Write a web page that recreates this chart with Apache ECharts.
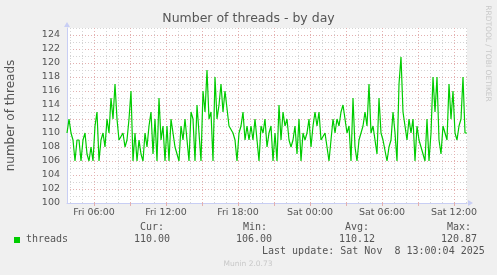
<!DOCTYPE html>
<html>
<head>
<meta charset="utf-8">
<script src="https://cdn.jsdelivr.net/npm/echarts@6/dist/echarts.min.js"></script>
<style>
html,body{margin:0;padding:0;background:#f0f0f0;}
#c{width:497px;height:275px;}
</style>
</head>
<body>
<div id="c"></div>
<script>
// Time axis: hours since Fri 00:00, one sample every 10 minutes
const startHour = 3.75;            // Fri 03:45
const stepHours = 1 / 6;           // 10 minutes
const endHour = 37.0833;           // Sat 13:05

// number of threads, one value per 10-minute step
const threads = [
  110,112,110,109,106,109,109,106,109,110,
  107,106,108,106,111,113,106,109,110,108,
  112,110,115,112,117,112,109,109,110,108,
  109,112,116,106,110,106,109,107,106,110,
  108,111,113,107,112,106,115,109,111,106,
  111,106,112,112,108,107,106,111,109,112,
  112,106,113,112,106,114,110,106,116,113,
  119,112,113,106,118,112,114,117,113,116,
  116,111,111,110,109,106,110,111,113,109,
  111,109,111,109,112,109,106,111,110,112,
  108,110,111,106,110,106,114,109,113,111,
  112,109,108,109,111,107,112,106,110,109,
  110,112,108,111,113,111,113,109,109,110,
  108,106,106,112,110,112,111,113,114,112,
  110,111,106,115,108,106,109,110,111,113,
  111,117,110,111,111,107,115,110,109,109,
  106,108,109,113,110,106,117,120.87,113,111,
  109,112,110,112,106,111,109,108,107,106,
  112,106,110,118,113,118,109,107,111,110,
  109,117,112,116,110,109,111,112,118,110,
  110
];

// Grid / tick positions (hours since Fri 00:00)
const minorHours = [4,5,7,8,10,11,13,14,16,17,19,20,22,23,25,26,28,29,31,32,34,35,37];
const majorHours = [6,9,12,15,18,21,24,27,30,33,36];
const labelHours = [6,12,18,24,30,36];
const labelTexts = ['Fri 06:00','Fri 12:00','Fri 18:00','Sat 00:00','Sat 06:00','Sat 12:00'];

const yMinorTicks = [101,103,105,107,109,111,113,115,117,119,121,123,125];
const yMajorTicks = [102,104,106,108,110,112,114,116,118,120,122,124];
const yLabels = [100,102,104,106,108,110,112,114,116,118,120,122,124];

// Legend values
const legendHeads = ['Cur:','Min:','Avg:','Max:'];
const legendVals = ['110.00','106.00','110.12','120.87'];

const seriesData = threads.map((v, i) => [startHour + i * stepHours, v]);

const FONT = 'DejaVu Sans';
const TXT = '#555555';
const AXIS = '#c8cef4';
const GRIDC = '#d4d4d4';
const MGRIDC = '#e3b0b0';

const chart = echarts.init(document.getElementById('c'), null, {renderer: 'canvas'});

const headX = [140, 243, 345, 447];
const valX = [134, 236, 339, 441];
const graphics = [
  {type:'text', x:11, y:115.5, rotation:Math.PI/2,
   style:{text:'number of threads', font:'12px "DejaVu Sans"', fill:TXT, align:'center', verticalAlign:'middle'}},
  {type:'text', x:488, y:53.5, rotation:-Math.PI/2,
   style:{text:'RRDTOOL / TOBI OETIKER', font:'7.5px "DejaVu Sans"', fill:'#c8c8c8', align:'center', verticalAlign:'middle'}},
  {type:'rect', shape:{x:14, y:237, width:6, height:6}, style:{fill:'#00cc00'}},
  {type:'text', x:26, y:239.5,
   style:{text:'threads', font:'10px "DejaVu Sans Mono"', fill:TXT, align:'left', verticalAlign:'middle'}},
  {type:'text', x:262, y:251,
   style:{text:'Last update: Sat Nov  8 13:00:04 2025', font:'10px "DejaVu Sans Mono"', fill:TXT, align:'left', verticalAlign:'middle'}},
  {type:'text', x:248, y:264.3,
   style:{text:'Munin 2.0.73', font:'7.5px "DejaVu Sans"', fill:'#c8c8c8', align:'center', verticalAlign:'middle'}}
];
legendHeads.forEach((h, k) => {
  graphics.push({type:'text', x:headX[k], y:227.7,
    style:{text:h, font:'10px "DejaVu Sans Mono"', fill:TXT, align:'left', verticalAlign:'middle'}});
  graphics.push({type:'text', x:valX[k], y:239.5,
    style:{text:legendVals[k], font:'10px "DejaVu Sans Mono"', fill:TXT, align:'left', verticalAlign:'middle'}});
});

chart.setOption({
  animation: false,
  backgroundColor: '#f0f0f0',
  title: {
    text: 'Number of threads - by day',
    left: 'center', top: 12, padding: 0,
    textStyle: {fontFamily: FONT, fontSize: 12.5, fontWeight: 'normal', color: TXT}
  },
  grid: {left: 67, right: 30, top: 28, bottom: 72, show: true, backgroundColor: '#ffffff', borderWidth: 0},
  xAxis: [
    {
      type: 'value', min: startHour, max: endHour, position: 'bottom',
      axisLine: {show: false},
      axisTick: {show: false, customValues: minorHours},
      axisLabel: {show: false},
      splitLine: {show: true, lineStyle: {color: GRIDC, width: 1, type: [1, 2]}}
    },
    {
      type: 'value', min: startHour, max: endHour, position: 'bottom',
      axisLine: {show: true, onZero: false, lineStyle: {color: AXIS, width: 1},
                 symbol: ['none', 'triangle'], symbolSize: [6, 5], symbolOffset: [0, 3.5]},
      axisTick: {show: true, length: 3, customValues: majorHours, lineStyle: {color: MGRIDC}},
      axisLabel: {show: true, customValues: labelHours, margin: 5,
                  formatter: (v) => labelTexts[labelHours.indexOf(Math.round(v))] || '',
                  fontFamily: FONT, fontSize: 9.5, color: TXT},
      splitLine: {show: true, lineStyle: {color: MGRIDC, width: 1, type: [1, 2]}}
    }
  ],
  yAxis: [
    {
      type: 'value', min: 100, max: 125, position: 'left',
      axisLine: {show: false},
      axisTick: {show: false, customValues: yMinorTicks},
      axisLabel: {show: false},
      splitLine: {show: true, lineStyle: {color: GRIDC, width: 1, type: [1, 2]}}
    },
    {
      type: 'value', min: 100, max: 125, position: 'left',
      axisLine: {show: true, onZero: false, lineStyle: {color: AXIS, width: 1},
                 symbol: ['none', 'triangle'], symbolSize: [6, 5], symbolOffset: [0, 3.5]},
      axisTick: {show: false, customValues: yMajorTicks},
      axisLabel: {show: true, customValues: yLabels, margin: 7,
                  fontFamily: FONT, fontSize: 9.5, color: TXT},
      splitLine: {show: true, lineStyle: {color: MGRIDC, width: 1, type: [1, 2]}}
    }
  ],
  series: [{
    type: 'line', xAxisIndex: 1, yAxisIndex: 1,
    data: seriesData, showSymbol: false, symbol: 'none',
    lineStyle: {color: '#00cc00', width: 1.2},
    itemStyle: {color: '#00cc00'},
    z: 5
  }],
  graphic: graphics
});
</script>
</body>
</html>
